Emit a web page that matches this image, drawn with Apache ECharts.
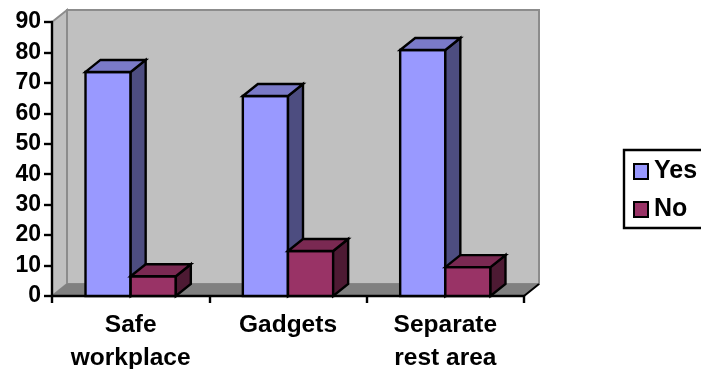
<!DOCTYPE html>
<html>
<head>
<meta charset="utf-8">
<style>
  html, body { margin: 0; padding: 0; background: #fff; overflow: hidden; }
  #chart { width: 701px; height: 369px; }
</style>
<script src="https://cdn.jsdelivr.net/npm/echarts@6/dist/echarts.min.js"></script>
</head>
<body>
<div id="chart"></div>
<script>
const categories = ['Safe\nworkplace', 'Gadgets', 'Separate\nrest area'];
const yesValues = [73.6, 65.7, 80.8];
const noValues = [6.5, 14.8, 9.5];

const FONT = '"Liberation Sans", Arial, sans-serif';
const DEPTH_X = 15;
const DEPTH_Y = -12;
const BAR_SHARE = 0.287;
const AXIS_MAX = 90;
const INK = 2.4;

function poly(points, fill, stroke, lineWidth) {
  return {
    type: 'polygon',
    shape: { points },
    style: { fill, stroke, lineWidth, lineJoin: 'miter' },
    silent: true
  };
}

// Three-faced box for one bar: front, top and right side.
function boxRenderer(slot, faces) {
  return function (params, api) {
    const idx = api.value(0);
    const base = api.coord([idx, 0]);
    const top = api.coord([idx, api.value(1)]);
    const w = api.size([1, 0])[0] * BAR_SHARE;
    const x0 = base[0] + slot * w;
    const x1 = x0 + w;
    const y0 = top[1];
    const y1 = base[1];
    return {
      type: 'group',
      children: [
        poly([[x0, y0], [x1, y0], [x1, y1], [x0, y1]], faces.front, '#000', INK),
        poly([[x1, y0], [x1 + DEPTH_X, y0 + DEPTH_Y], [x1 + DEPTH_X, y1 + DEPTH_Y], [x1, y1]], faces.side, '#000', INK),
        poly([[x0, y0], [x0 + DEPTH_X, y0 + DEPTH_Y], [x1 + DEPTH_X, y0 + DEPTH_Y], [x1, y0]], faces.top, '#000', INK)
      ]
    };
  };
}

// Side wall, back wall and floor behind the bars.
function renderWalls(params, api) {
  const band = api.size([1, 0])[0];
  const first = api.coord([0, 0]);
  const last = api.coord([categories.length - 1, 0]);
  const high = api.coord([0, AXIS_MAX]);
  const xl = first[0] - band / 2;
  const xr = last[0] + band / 2;
  const yb = first[1];
  const yt = high[1];
  const dx = DEPTH_X;
  const dy = DEPTH_Y;
  return {
    type: 'group',
    children: [
      poly([[xl + dx, yt + dy], [xr + dx, yt + dy], [xr + dx, yb + dy], [xl + dx, yb + dy]], '#c0c0c0', '#8c8c8c', 2),
      poly([[xl, yt], [xl + dx, yt + dy], [xl + dx, yb + dy], [xl, yb]], '#c0c0c0', '#8c8c8c', 2),
      poly([[xl, yb], [xl + dx, yb + dy], [xr + dx, yb + dy], [xr, yb]], '#808080', '#808080', 1),
      { type: 'line', shape: { x1: xr, y1: yb, x2: xr + dx, y2: yb + dy }, style: { stroke: '#000', lineWidth: 2 }, silent: true }
    ]
  };
}

const chart = echarts.init(document.getElementById('chart'), null, { renderer: 'canvas' });
chart.setOption({
  animation: false,
  backgroundColor: '#fff',
  grid: { left: 52, right: 177, top: 22, bottom: 73, containLabel: false, outerBoundsMode: 'none' },
  xAxis: {
    type: 'category',
    data: categories,
    axisLine: { show: true, onZero: false, lineStyle: { color: '#000', width: INK } },
    axisTick: { show: true, alignWithLabel: false, length: 7, lineStyle: { color: '#000', width: INK } },
    axisLabel: {
      interval: 0,
      color: '#000',
      fontFamily: FONT,
      fontWeight: 'bold',
      fontSize: 24.5,
      lineHeight: 33,
      margin: 13
    },
    splitLine: { show: false }
  },
  yAxis: {
    type: 'value',
    min: 0,
    max: AXIS_MAX,
    interval: 10,
    axisLine: { show: true, lineStyle: { color: '#000', width: INK } },
    axisTick: { show: true, length: 8, lineStyle: { color: '#000', width: INK } },
    axisLabel: {
      color: '#000',
      fontFamily: FONT,
      fontWeight: 'bold',
      fontSize: 23,
      margin: 11
    },
    splitLine: { show: false }
  },
  legend: {
    orient: 'vertical',
    left: 624,
    top: 150,
    padding: [9, 14, 6, 9],
    itemGap: 13,
    itemWidth: 14,
    itemHeight: 15,
    icon: 'rect',
    selectedMode: false,
    borderColor: '#000',
    borderWidth: 2.4,
    backgroundColor: '#fff',
    data: ['Yes', 'No'],
    itemStyle: { borderColor: '#000', borderWidth: 2 },
    textStyle: {
      color: '#000',
      fontFamily: FONT,
      fontWeight: 'bold',
      fontSize: 25,
      lineHeight: 25,
      padding: [0, 0, 0, 1]
    }
  },
  series: [
    {
      type: 'custom',
      name: 'walls',
      silent: true,
      clip: false,
      z: 0,
      data: [[0, 0]],
      encode: { x: 0, y: 1 },
      renderItem: renderWalls
    },
    {
      type: 'custom',
      name: 'Yes',
      clip: false,
      z: 3,
      itemStyle: { color: '#9999ff' },
      data: yesValues.map((v, i) => [i, v]),
      encode: { x: 0, y: 1 },
      renderItem: boxRenderer(-1, { front: '#9999ff', top: '#7a7ac8', side: '#4d4d80' })
    },
    {
      type: 'custom',
      name: 'No',
      clip: false,
      z: 4,
      itemStyle: { color: '#993366' },
      data: noValues.map((v, i) => [i, v]),
      encode: { x: 0, y: 1 },
      renderItem: boxRenderer(0, { front: '#993366', top: '#7a2952', side: '#4d1a33' })
    }
  ]
});
</script>
</body>
</html>
